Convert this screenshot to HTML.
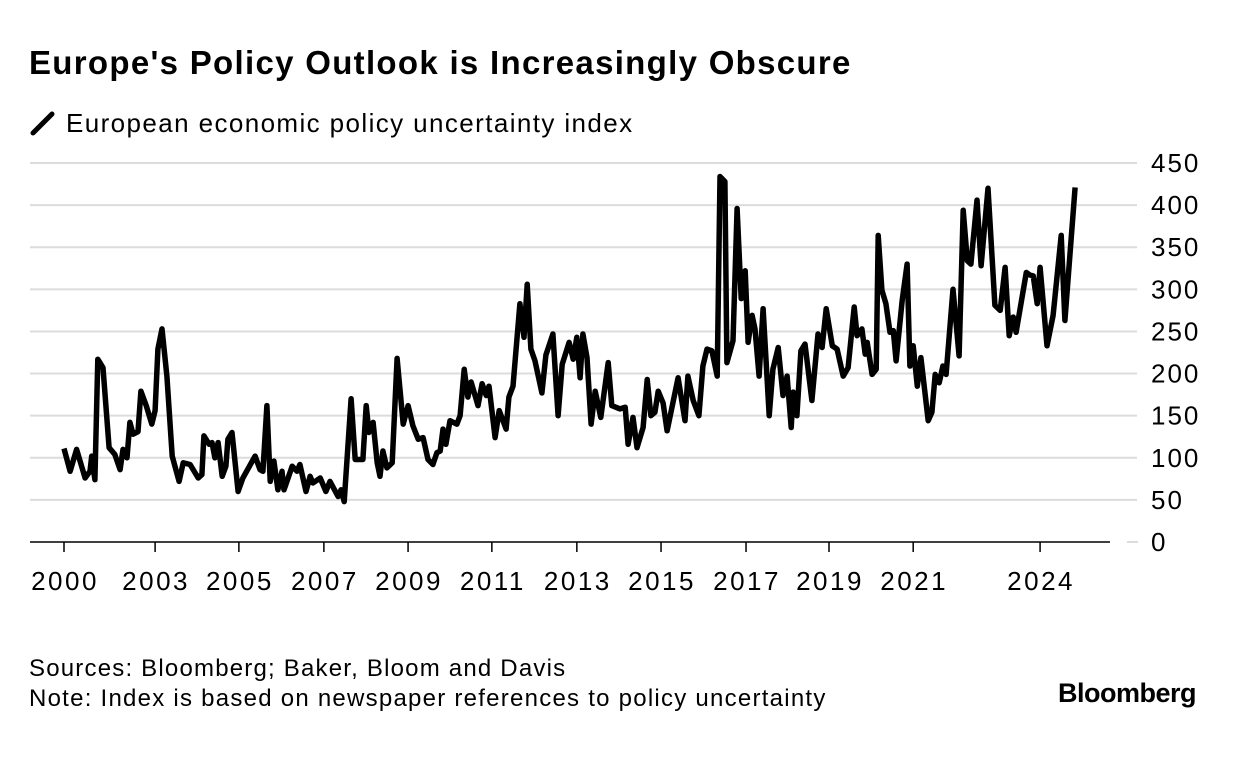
<!DOCTYPE html>
<html><head><meta charset="utf-8"><style>
body{margin:0;background:#fff;width:1236px;height:754px;overflow:hidden;font-family:"Liberation Sans",sans-serif;color:#000}
</style></head><body>
<svg width="1236" height="754" viewBox="0 0 1236 754">
<text x="29" y="74" font-size="33" font-weight="bold" letter-spacing="1.3">Europe's Policy Outlook is Increasingly Obscure</text>
<g>
<line x1="33" y1="133" x2="52" y2="114" stroke="#000" stroke-width="5" stroke-linecap="round"/>
<text x="66" y="132" font-size="26" letter-spacing="1.4">European economic policy uncertainty index</text>
</g>
<g id="grid"></g>
<g id="yticks"></g>
<g id="xticks"></g>
<path id="series" fill="none" stroke="#000" stroke-width="5.5" stroke-linejoin="round"/>
<line x1="30" y1="542" x2="1110" y2="542" stroke="#000" stroke-width="1.5"/>
<text x="29" y="676" font-size="24" letter-spacing="1.2">Sources: Bloomberg; Baker, Bloom and Davis</text>
<text x="29" y="706" font-size="24" letter-spacing="1.25">Note: Index is based on newspaper references to policy uncertainty</text>
<text x="1196" y="702" font-size="27" font-weight="bold" text-anchor="end" letter-spacing="-0.5">Bloomberg</text>
</svg>
<script>
const years=[0,0.15,0.31,0.52,0.64,0.68,0.76,0.83,0.96,1.11,1.25,1.38,1.45,1.55,1.62,1.70,1.82,1.89,2.02,2.16,2.24,2.31,2.41,2.53,2.66,2.83,2.93,3.10,3.30,3.39,3.44,3.57,3.64,3.71,3.79,3.89,3.98,4.03,4.13,4.28,4.40,4.70,4.82,4.89,4.99,5.07,5.16,5.26,5.36,5.41,5.61,5.73,5.80,5.95,6.05,6.12,6.30,6.44,6.54,6.74,6.81,6.89,7.06,7.16,7.35,7.43,7.50,7.60,7.70,7.77,7.84,7.94,8.07,8.19,8.34,8.46,8.58,8.71,8.83,8.95,9.07,9.17,9.25,9.32,9.39,9.49,9.66,9.74,9.84,9.93,10.01,10.18,10.28,10.38,10.45,10.60,10.70,10.87,10.94,11.04,11.21,11.31,11.39,11.48,11.58,11.75,11.85,12.02,12.15,12.25,12.42,12.52,12.61,12.69,12.76,12.86,12.96,13.06,13.20,13.38,13.47,13.67,13.80,13.87,13.99,14.09,14.24,14.34,14.43,14.53,14.61,14.73,14.83,15.10,15.27,15.34,15.47,15.61,15.71,15.81,15.93,16.06,16.13,16.25,16.30,16.45,16.55,16.65,16.75,16.82,16.92,16.99,17.09,17.19,17.34,17.43,17.56,17.68,17.78,17.88,17.93,18.02,18.12,18.22,18.39,18.54,18.64,18.74,18.89,19.01,19.16,19.28,19.43,19.50,19.62,19.70,19.75,19.87,19.97,20.02,20.11,20.21,20.31,20.39,20.46,20.61,20.73,20.80,20.88,20.98,21.07,21.25,21.34,21.42,21.52,21.61,21.69,21.86,22.01,22.11,22.21,22.30,22.45,22.55,22.72,22.89,23.02,23.14,23.24,23.34,23.41,23.66,23.75,23.83,23.93,24.00,24.17,24.32,24.52,24.61,24.86];
const values=[111,84,110,76,84,102,74,217,207,112,104,86,110,100,142,128,131,179,162,140,156,229,253,197,102,72,94,92,76,80,126,116,118,100,118,78,90,122,130,60,76,102,86,84,162,72,96,62,84,62,90,84,92,60,78,70,76,60,72,54,62,48,170,98,98,162,130,142,94,78,108,88,94,218,140,162,138,122,124,98,92,106,108,134,116,144,140,150,205,172,190,162,188,174,185,124,156,134,172,185,283,243,306,229,215,177,222,247,150,211,237,217,243,195,247,219,140,179,148,213,162,158,160,116,148,112,136,193,150,154,179,165,132,195,144,197,168,150,209,229,227,197,434,428,213,239,396,289,322,237,269,253,197,277,150,205,231,174,197,136,178,150,227,235,168,247,231,277,233,229,197,207,279,245,253,223,237,199,205,364,299,283,249,251,215,287,330,209,233,185,219,144,154,199,189,209,199,300,221,394,334,330,406,328,420,281,275,326,245,267,249,320,317,316,283,326,233,269,364,263,421];
const yTicks=[0,50,100,150,200,250,300,350,400,450];
const xTickYears=[0,2.24,4.3,6.39,8.46,10.52,12.61,14.68,16.77,18.81,20.88,24];
const xTickLabels=["2000","2003","2005","2007","2009","2011","2013","2015","2017","2019","2021","2024"];
const NS="http://www.w3.org/2000/svg";
const xs=t=>64+t*40.67, ys=v=>542-v*0.8422;
const grid=document.getElementById('grid'),yt=document.getElementById('yticks'),xt=document.getElementById('xticks');
yTicks.forEach(v=>{
  if(v>0){const l=document.createElementNS(NS,'line');
  l.setAttribute('x1',30);l.setAttribute('x2',1137);l.setAttribute('y1',ys(v));l.setAttribute('y2',ys(v));
  l.setAttribute('stroke','#dcdcdc');l.setAttribute('stroke-width','2');
  
  
  grid.appendChild(l);}
  else{const l=document.createElementNS(NS,'line');
  l.setAttribute('x1',1127);l.setAttribute('x2',1138);l.setAttribute('y1',ys(0));l.setAttribute('y2',ys(0));
  l.setAttribute('stroke','#dcdcdc');l.setAttribute('stroke-width','2');
  
  
  grid.appendChild(l);}
  const t=document.createElementNS(NS,'text');
  t.setAttribute('x',1151);t.setAttribute('y',ys(v)+9);t.setAttribute('font-size','26');t.setAttribute('letter-spacing','2');
  t.textContent=v;
  
  
  yt.appendChild(t);
});
xTickYears.forEach((y,i)=>{
  const l=document.createElementNS(NS,'line');
  l.setAttribute('x1',xs(y));l.setAttribute('x2',xs(y));l.setAttribute('y1',542);l.setAttribute('y2',552);
  l.setAttribute('stroke','#000');l.setAttribute('stroke-width','1.5');
  
  
  xt.appendChild(l);
  const t=document.createElementNS(NS,'text');
  t.setAttribute('x',xs(y)+1);t.setAttribute('y',590);t.setAttribute('font-size','26');t.setAttribute('letter-spacing','2.5');t.setAttribute('text-anchor','middle');
  t.textContent=xTickLabels[i];
  
  
  xt.appendChild(t);
});
document.getElementById('series').setAttribute('d',years.map((y,i)=>(i?'L':'M')+xs(y).toFixed(1)+','+ys(values[i]).toFixed(1)).join(''));
</script>
</body></html>
